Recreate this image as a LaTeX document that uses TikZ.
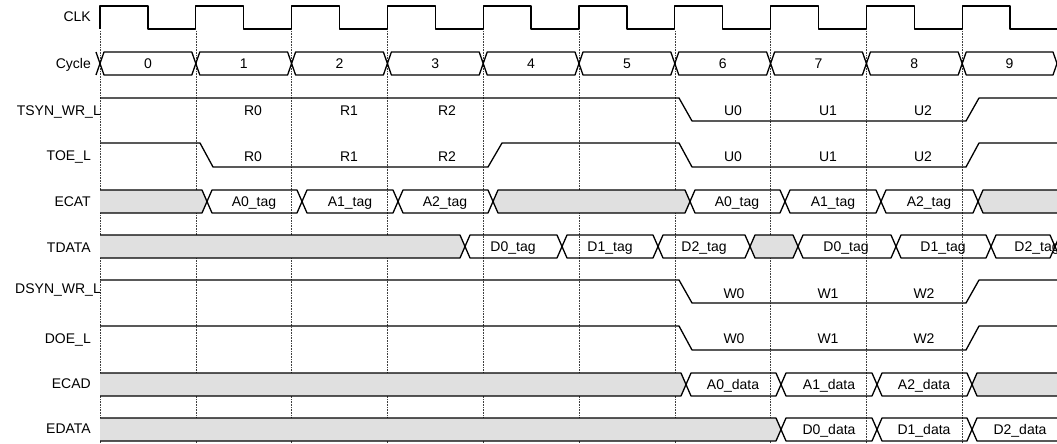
\documentclass[tikz,border=0pt]{standalone}
\usepackage{fontspec}
\setmainfont{Liberation Sans}
\begin{document}
\begin{tikzpicture}[x=1pt,y=-1pt,
sigline/.style={line width=1.3pt,line join=round},
busfill/.style={fill=black!12},
tickline/.style={densely dotted,line width=0.6pt,black!75},
signame/.style={font=\fontsize{14}{16}\selectfont,inner sep=0pt,anchor=base east},
val/.style={font=\fontsize{14}{16}\selectfont,inner sep=0pt,anchor=base}]
\useasboundingbox (0,0) rectangle (1057,444);
\foreach \t in {100,195.8,291.6,387.4,483.2,579,674.8,770.6,866.4,962.2}
\draw[tickline] (\t,31) -- (\t,444);
\draw[sigline] (100,29) \foreach \t in {100,195.8,291.6,387.4,483.2,579,674.8,770.6,866.4,962.2} {-- (\t,29) -- (\t,6) -- (\t+47.9,6) -- (\t+47.9,29)} -- (1057,29);
\draw[sigline] (96,52) -- (100,63.5) -- (96,75);
\foreach \a/\b/\n in {100/195.8/0,195.8/291.6/1,291.6/387.4/2,387.4/483.2/3,483.2/579/4,579/674.8/5,674.8/770.6/6,770.6/866.4/7,866.4/962.2/8,962.2/1057/9}
{\draw[sigline] (\a,63.5) -- (\a+4,52) -- (\b-4,52) -- (\b,63.5) -- (\b-4,75) -- (\a+4,75) -- cycle;
\node (cyc\n) at ({(\a+\b)/2},68.5) [val]{\n};}
\draw[sigline] (100,98) -- (679,98) -- (692,121) -- (966,121) -- (979,98) -- (1057,98);
\draw[sigline] (100,143) -- (200,143) -- (213,167) -- (488,167) -- (502,143) -- (679,143) -- (692,167) -- (966,167) -- (979,143) -- (1057,143);
\draw[sigline] (100,280) -- (679,280) -- (692,303) -- (966,303) -- (979,280) -- (1057,280);
\draw[sigline] (100,326) -- (679,326) -- (692,350) -- (966,350) -- (979,326) -- (1057,326);
\foreach \x/\t [count=\i] in {253/R0,349/R1,447/R2,733/U0,828/U1,923/U2}
{\node (tsyn\i) at (\x,115) [val]{\t};
\node (toe\i) at (\x,161.5) [val]{\t};}
\foreach \x/\t [count=\i] in {734/W0,828/W1,924/W2}
{\node (dsyn\i) at (\x,298) [val]{\t};
\node (doe\i) at (\x,343) [val]{\t};}
\begin{scope}
\clip (100,0) rectangle (1057,444);
\foreach \yt/\a/\b in {190/90/207,190/493/690,190/978/1067,235/90/465,235/750/798,373/90/686,373/972/1067,418/90/781}
\draw[sigline][busfill] (\a,\yt+11.5) -- (\a+5,\yt) -- (\b-5,\yt) -- (\b,\yt+11.5) -- (\b-5,\yt+23) -- (\a+5,\yt+23) -- cycle;
\foreach \yt/\a/\b/\lx/\txt [count=\i] in {190/207/302/254/A0\_tag,190/302/398/350/A1\_tag,190/398/493/445/A2\_tag,190/690/785/737/A0\_tag,190/785/881/833/A1\_tag,190/881/978/929/A2\_tag,235/465/562/513/D0\_tag,235/562/658/610/D1\_tag,235/658/750/704/D2\_tag,235/798/896/846/D0\_tag,235/896/991/943/D1\_tag,235/991/1055/1037/D2\_tag,373/686/781/733/A0\_data,373/781/877/829/A1\_data,373/877/972/924/A2\_data,418/781/877/829/D0\_data,418/877/972/924/D1\_data,418/972/1067/1020/D2\_data}
{\node (bus\i) at (\lx,\yt+16.5) [val]{\txt};
\draw[sigline] (\a,\yt+11.5) -- (\a+5,\yt) -- (\b-5,\yt) -- (\b,\yt+11.5) -- (\b-5,\yt+23) -- (\a+5,\yt+23) -- cycle;}
\draw[sigline] (1055,246.5) -- (1060,235) -- (1100,235) (1055,246.5) -- (1060,258) -- (1100,258);
\end{scope}
\node (clk) at (91,22) [signame]{CLK};
\node (cycle) at (91,68.5) [signame]{Cycle};
\node (tsyn) at (101,115) [signame]{TSYN\_WR\_L};
\node (toe) at (91,160) [signame]{TOE\_L};
\node (ecat) at (91,206) [signame]{ECAT};
\node (tdata) at (91,252) [signame]{TDATA};
\node (dsyn) at (101,293) [signame]{DSYN\_WR\_L};
\node (doe) at (91,343) [signame]{DOE\_L};
\node (ecad) at (91,388) [signame]{ECAD};
\node (edata) at (91,433) [signame]{EDATA};
\end{tikzpicture}
\end{document}
